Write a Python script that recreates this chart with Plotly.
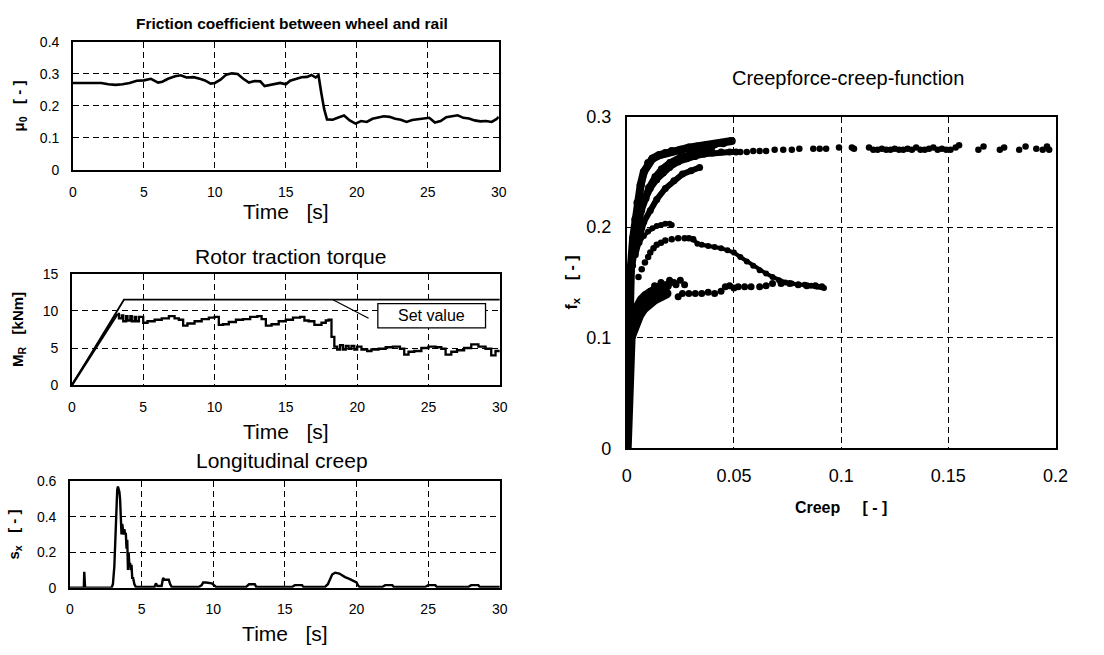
import plotly.graph_objects as go

W, H = 1104, 655
FONT = "Liberation Sans, Arial, sans-serif"

# ---------------- data: friction coefficient ----------------
t_mu = [0, 1, 2, 2.5, 3, 3.5, 4, 4.5, 5, 5.5, 6, 6.3, 6.7, 7.2, 7.6, 8, 8.5, 9, 9.3, 9.7, 10,
        10.4, 10.8, 11.2, 11.6, 12, 12.4, 12.8, 13.2, 13.5, 13.8, 14.2, 14.6, 15, 15.3, 15.7,
        16.1, 16.5, 16.8, 17.1, 17.3, 17.5, 17.7, 17.9, 18.3, 18.7, 19.1, 19.5, 19.9, 20.3,
        20.7, 21.1, 21.5, 21.9, 22.3, 22.7, 23.1, 23.5, 23.9, 24.3, 24.7, 25.1, 25.5, 25.9,
        26.3, 26.7, 27.1, 27.5, 27.9, 28.3, 28.7, 29.1, 29.5, 29.8, 30]
mu0 = [0.272, 0.273, 0.272, 0.268, 0.266, 0.268, 0.272, 0.279, 0.280, 0.285, 0.273, 0.276,
       0.285, 0.293, 0.296, 0.289, 0.290, 0.284, 0.280, 0.270, 0.272, 0.282, 0.298, 0.302,
       0.300, 0.285, 0.273, 0.278, 0.277, 0.262, 0.265, 0.268, 0.272, 0.268, 0.279, 0.284,
       0.290, 0.291, 0.297, 0.289, 0.296, 0.240, 0.190, 0.158, 0.157, 0.164, 0.170, 0.155,
       0.145, 0.153, 0.150, 0.160, 0.163, 0.168, 0.166, 0.160, 0.157, 0.150, 0.156, 0.158,
       0.162, 0.163, 0.148, 0.153, 0.165, 0.167, 0.171, 0.163, 0.161, 0.155, 0.152, 0.153,
       0.150, 0.158, 0.166]

# ---------------- data: rotor traction torque ----------------
t_set = [0, 3.65, 30]
m_set = [0, 11.5, 11.5]
t_ramp = [0, 3.2]
m_ramp = [0, 9.6]
t_m = [3.2, 3.3, 3.5, 3.6, 3.8, 3.9, 4.1, 4.2, 4.4, 4.5, 4.7, 4.8, 5.0, 5.3, 5.8, 6.3,
       6.8, 7.2, 7.5, 7.8, 8.1, 8.6, 9.1, 9.6, 10.0, 10.3, 10.6, 11.0, 11.5, 12.0, 12.5,
       13.0, 13.3, 13.6, 14.0, 14.5, 15.0, 15.5, 16.0, 16.3, 16.6, 17.0, 17.5, 17.8, 18.0,
       18.2, 18.4, 18.6, 18.8, 19.0, 19.2, 19.4, 19.6, 19.8, 20.0, 20.3, 20.7, 21.0, 21.5,
       22.0, 22.5, 23.0, 23.3, 23.6, 24.0, 24.5, 25.0, 25.5, 25.9, 26.2, 26.6, 27.0, 27.5,
       28.0, 28.5, 29.0, 29.4, 29.7, 30.0]
m_r = [9.6, 9.0, 9.4, 8.6, 9.3, 8.7, 9.3, 8.6, 9.2, 8.6, 9.2, 9.2, 8.4, 8.6, 8.8, 9.0,
       9.3, 9.0, 8.8, 8.0, 8.3, 8.6, 8.9, 9.1, 9.2, 8.1, 8.2, 8.5, 8.8, 8.9, 9.2, 9.3, 8.9,
       8.0, 8.2, 8.6, 8.8, 9.1, 9.2, 8.7, 8.6, 8.1, 8.4, 8.7, 8.8, 6.5, 5.2, 4.8, 5.4, 4.8,
       5.3, 4.9, 5.3, 4.8, 5.2, 4.8, 4.6, 4.8, 4.9, 5.1, 5.2, 4.9, 4.1, 4.5, 4.6, 5.0, 5.2,
       5.1, 4.9, 4.1, 4.5, 4.7, 5.0, 5.5, 5.2, 4.9, 4.0, 4.6, 4.6]

# ---------------- data: longitudinal creep ----------------
t_s = [0, 0.97, 1.0, 1.03, 1.06, 2.9, 3.0, 3.1, 3.2, 3.3, 3.35, 3.4, 3.45, 3.5, 3.55, 3.6,
       3.65, 3.7, 3.75, 3.8, 3.85, 3.9, 3.95, 4.0, 4.05, 4.1, 4.15, 4.2, 4.25, 4.3, 4.35,
       4.4, 4.5, 4.6, 5.0, 5.9, 6.0, 6.1, 6.4, 6.5, 6.6, 6.9, 7.0, 7.1, 9.0, 9.2, 9.3, 9.5,
       9.9, 10.1, 10.2, 12.3, 12.5, 12.9, 13.0, 15.5, 15.7, 16.2, 16.3, 17.8, 18.0, 18.3,
       18.5, 18.8, 19.0, 19.2, 19.5, 19.8, 20.0, 20.1, 20.2, 21.8, 22.0, 22.5, 22.6, 24.8,
       25.0, 25.5, 25.6, 27.8, 28.0, 28.5, 28.6, 30]
s_x = [0, 0, 0.09, 0.0, 0, 0, 0.02, 0.12, 0.38, 0.55, 0.57, 0.56, 0.54, 0.50, 0.38, 0.30,
       0.36, 0.34, 0.30, 0.33, 0.30, 0.31, 0.22, 0.27, 0.10, 0.20, 0.12, 0.14, 0.10, 0.13,
       0.05, 0.06, 0.02, 0.005, 0.005, 0.005, 0.025, 0.01, 0.01, 0.055, 0.045, 0.045, 0.02,
       0.005, 0.005, 0.015, 0.03, 0.03, 0.025, 0.01, 0.005, 0.005, 0.02, 0.02, 0.005, 0.005,
       0.015, 0.015, 0.005, 0.005, 0.02, 0.075, 0.085, 0.08, 0.07, 0.06, 0.05, 0.04, 0.03,
       0.015, 0.005, 0.005, 0.015, 0.015, 0.005, 0.005, 0.015, 0.015, 0.005, 0.005, 0.015,
       0.015, 0.005, 0.005]

# ---------------- data: creepforce-creep function ----------------
band1_x = [0, 0.0005, 0.001, 0.0015, 0.002, 0.003, 0.004, 0.005, 0.0065, 0.008, 0.010, 0.012,
           0.015, 0.018, 0.021, 0.025, 0.029, 0.033, 0.037, 0.041, 0.045, 0.049]
band1_y = [0, 0.07, 0.11, 0.14, 0.165, 0.19, 0.207, 0.222, 0.238, 0.250, 0.258, 0.262,
           0.265, 0.267, 0.269, 0.270, 0.272, 0.273, 0.274, 0.275, 0.276, 0.278]
band2_x = [0.003, 0.005, 0.007, 0.009, 0.011, 0.014, 0.017, 0.020, 0.024, 0.028, 0.032,
           0.036, 0.040, 0.044, 0.048, 0.051]
band2_y = [0.180, 0.200, 0.215, 0.226, 0.235, 0.243, 0.249, 0.254, 0.259, 0.262, 0.264,
           0.266, 0.267, 0.268, 0.268, 0.268]
band3_x = [0.004, 0.006, 0.008, 0.011, 0.014, 0.018, 0.022, 0.026, 0.030, 0.034]
band3_y = [0.175, 0.190, 0.205, 0.215, 0.225, 0.235, 0.242, 0.248, 0.251, 0.254]
band4_x = [0.004, 0.006, 0.008, 0.010, 0.013, 0.016, 0.020, 0.025, 0.030, 0.035, 0.040]
band4_y = [0.195, 0.212, 0.226, 0.236, 0.246, 0.253, 0.259, 0.264, 0.267, 0.270, 0.272]
dots_x = [0.053, 0.056, 0.059, 0.062, 0.065, 0.069, 0.073, 0.077, 0.0805, 0.087, 0.090,
          0.093, 0.099, 0.105, 0.106, 0.113, 0.115, 0.117, 0.119, 0.121, 0.123, 0.125, 0.127,
          0.129, 0.131, 0.133, 0.135, 0.137, 0.139, 0.141, 0.143, 0.145, 0.147, 0.149, 0.151,
          0.1534, 0.155, 0.164, 0.1664, 0.174, 0.176, 0.183, 0.186, 0.191, 0.194, 0.196, 0.197]
dots_y = [0.268, 0.268, 0.269, 0.269, 0.269, 0.270, 0.270, 0.270, 0.271, 0.271, 0.271,
          0.271, 0.272, 0.272, 0.271, 0.272, 0.270, 0.270, 0.271, 0.270, 0.270, 0.271, 0.270,
          0.270, 0.271, 0.270, 0.272, 0.270, 0.270, 0.271, 0.272, 0.270, 0.271, 0.270, 0.270,
          0.272, 0.274, 0.270, 0.273, 0.270, 0.272, 0.270, 0.273, 0.271, 0.270, 0.273, 0.270]
peak_x = [0.002, 0.003, 0.004, 0.006, 0.008, 0.010, 0.012, 0.014, 0.016, 0.018, 0.020, 0.021]
peak_y = [0.150, 0.165, 0.177, 0.186, 0.192, 0.196, 0.199, 0.201, 0.202, 0.203, 0.203, 0.202]
fall_dot_x = [0.0055, 0.007, 0.0085, 0.010, 0.011, 0.0125, 0.014, 0.016, 0.018, 0.021, 0.024,
              0.027, 0.029, 0.031]
fall_dot_y = [0.155, 0.162, 0.168, 0.173, 0.177, 0.181, 0.184, 0.186, 0.188, 0.189, 0.190,
              0.190, 0.190, 0.189]
fall_x = [0.031, 0.033, 0.035, 0.038, 0.041, 0.044, 0.047, 0.050, 0.053, 0.056, 0.059, 0.062,
          0.065, 0.068, 0.071, 0.074, 0.077, 0.080, 0.083, 0.086, 0.089, 0.092]
fall_y = [0.189, 0.185, 0.184, 0.183, 0.182, 0.181, 0.179, 0.177, 0.173, 0.169, 0.165, 0.161,
          0.158, 0.155, 0.152, 0.150, 0.149, 0.148, 0.148, 0.147, 0.146, 0.145]
low_band_x = [0, 0.0005, 0.001, 0.002, 0.003, 0.005, 0.007, 0.009, 0.011, 0.013, 0.015, 0.017,
              0.019]
low_band_y = [0, 0.05, 0.09, 0.11, 0.12, 0.128, 0.134, 0.138, 0.141, 0.143, 0.145, 0.146, 0.147]
low_band2_x = [0.002, 0.004, 0.006, 0.008, 0.010, 0.013, 0.016, 0.019]
low_band2_y = [0.100, 0.112, 0.120, 0.126, 0.130, 0.134, 0.137, 0.140]
low_dot_x = [0.013, 0.016, 0.020, 0.022, 0.023, 0.025, 0.027, 0.024, 0.026, 0.029, 0.032,
             0.035, 0.038, 0.041, 0.044, 0.046, 0.048, 0.050, 0.052, 0.055, 0.058, 0.062,
             0.065, 0.068, 0.072, 0.076, 0.080, 0.084, 0.088, 0.091]
low_dot_y = [0.147, 0.150, 0.152, 0.150, 0.148, 0.152, 0.148, 0.137, 0.140, 0.140, 0.140,
             0.140, 0.141, 0.140, 0.142, 0.146, 0.147, 0.145, 0.146, 0.146, 0.146, 0.146,
             0.147, 0.149, 0.149, 0.149, 0.148, 0.147, 0.147, 0.146]

# ---------------- figure ----------------
fig = go.Figure()
BLK = "black"

fig.add_trace(go.Scatter(x=t_mu, y=mu0, mode="lines", line=dict(color=BLK, width=2.6),
                         xaxis="x", yaxis="y"))
fig.add_trace(go.Scatter(x=t_set, y=m_set, mode="lines", line=dict(color=BLK, width=1.8),
                         xaxis="x2", yaxis="y2"))
fig.add_trace(go.Scatter(x=t_ramp, y=m_ramp, mode="lines", line=dict(color=BLK, width=2.4),
                         xaxis="x2", yaxis="y2"))
fig.add_trace(go.Scatter(x=t_m, y=m_r, mode="lines", line=dict(color=BLK, width=2.3, shape="hv"),
                         xaxis="x2", yaxis="y2"))
fig.add_trace(go.Scatter(x=t_s, y=s_x, mode="lines", line=dict(color=BLK, width=2.4),
                         xaxis="x3", yaxis="y3"))

def band(x, y, w, ms):
    fig.add_trace(go.Scatter(x=x, y=y, mode="lines+markers", line=dict(color=BLK, width=w),
                             marker=dict(color=BLK, size=ms), xaxis="x4", yaxis="y4"))

def dots(x, y, ms=6.5):
    fig.add_trace(go.Scatter(x=x, y=y, mode="markers", marker=dict(color=BLK, size=ms),
                             xaxis="x4", yaxis="y4"))

band(band1_x, band1_y, 8, 8)
band(band2_x, band2_y, 6, 7)
band(band3_x, band3_y, 6, 7)
band(band4_x, band4_y, 5, 6)
dots(dots_x, dots_y)
band(peak_x, peak_y, 4, 6)
dots(fall_dot_x, fall_dot_y)
band(fall_x, fall_y, 4, 6)
band(low_band_x, low_band_y, 10, 9)
band(low_band2_x, low_band2_y, 9, 8)
dots(low_dot_x, low_dot_y, 7)

def ax(domain, anchor, rng, dtick, fs, standoff, title, tsize, tstand, bold=False):
    if bold:
        title = "<b>" + title + "</b>"
    return dict(domain=domain, anchor=anchor, range=rng, dtick=dtick, tick0=0,
                showline=True, mirror=True, linecolor=BLK, linewidth=1.5,
                showgrid=True, gridcolor=BLK, gridwidth=1, griddash="6px,4px",
                zeroline=False, ticks="", ticklabelstandoff=standoff,
                tickfont=dict(family=FONT, size=fs, color=BLK),
                title=dict(text=title, standoff=tstand,
                           font=dict(family=FONT, size=tsize, color=BLK)))

TIME = "Time&nbsp;&nbsp;&nbsp;[s]"
fig.update_layout(
    width=W, height=H, margin=dict(l=0, r=0, t=0, b=0),
    paper_bgcolor="white", plot_bgcolor="white", showlegend=False,
    font=dict(family=FONT, color=BLK),
    xaxis=ax([69 / W, 502 / W], "y", [0, 30], 5, 14, 8, TIME, 21, 4),
    yaxis=ax([1 - 165 / H, 1 - 33 / H], "x", [0, 0.4], 0.1, 14, 9,
             "μ<sub>0</sub>&nbsp;&nbsp;&nbsp;[ - ]", 15, 12, True),
    xaxis2=ax([68 / W, 503 / W], "y2", [0, 30], 5, 14, 8, TIME, 21, 11),
    yaxis2=ax([1 - 387 / H, 1 - 272 / H], "x2", [0, 15], 5, 14, 9,
              "M<sub>R</sub>&nbsp;&nbsp;&nbsp;[kNm]", 15, 16, True),
    xaxis3=ax([66 / W, 503 / W], "y3", [0, 30], 5, 14, 8, TIME, 21, 10),
    yaxis3=ax([1 - 596 / H, 1 - 486 / H], "x3", [0, 0.6], 0.2, 14, 9,
              "s<sub>x</sub>&nbsp;&nbsp;&nbsp;[ - ]", 15, 14, True),
    xaxis4=ax([632 / W, 1068 / W], "y4", [0, 0.2], 0.05, 18, 10,
              "Creep&nbsp;&nbsp;&nbsp;&nbsp;&nbsp;[ - ]", 16, 17, True),
    yaxis4=ax([1 - 452 / H, 1 - 110 / H], "x4", [0, 0.3], 0.1, 18, 10,
              "f<sub>x</sub>&nbsp;&nbsp;&nbsp;&nbsp;[ - ]", 16, 5, True),
)

# "Set value" label with connector
SET_LINE = dict(x0=18.3, y0=11.5, x1=20.8, y1=9.0)
SET_BOX = dict(x0=21.45, y0=7.7, x1=29.0, y1=10.96)
fig.add_shape(type="line", xref="x2", yref="y2", line=dict(color=BLK, width=1.3), **SET_LINE)
fig.add_shape(type="rect", xref="x2", yref="y2", line=dict(color=BLK, width=1.3),
              fillcolor="white", **SET_BOX)
fig.add_annotation(x=(SET_BOX["x0"] + SET_BOX["x1"]) / 2, y=(SET_BOX["y0"] + SET_BOX["y1"]) / 2,
                   xref="x2", yref="y2", text="Set value", showarrow=False,
                   font=dict(family=FONT, size=16, color=BLK))

def ann(text, x, y, size, bold=False):
    if bold:
        text = "<b>" + text + "</b>"
    fig.add_annotation(x=x / W, y=1 - y / H, xref="paper", yref="paper", text=text,
                       showarrow=False, xanchor="center", yanchor="middle",
                       font=dict(family=FONT, size=size, color=BLK))

# chart titles
ann("Friction coefficient between wheel and rail", 292, 14, 15.5, bold=True)
ann("Rotor traction torque", 290, 254, 21)
ann("Longitudinal creep", 282, 465, 21)
ann("Creepforce-creep-function", 857, 70, 20)

fig.write_html("out.html")
